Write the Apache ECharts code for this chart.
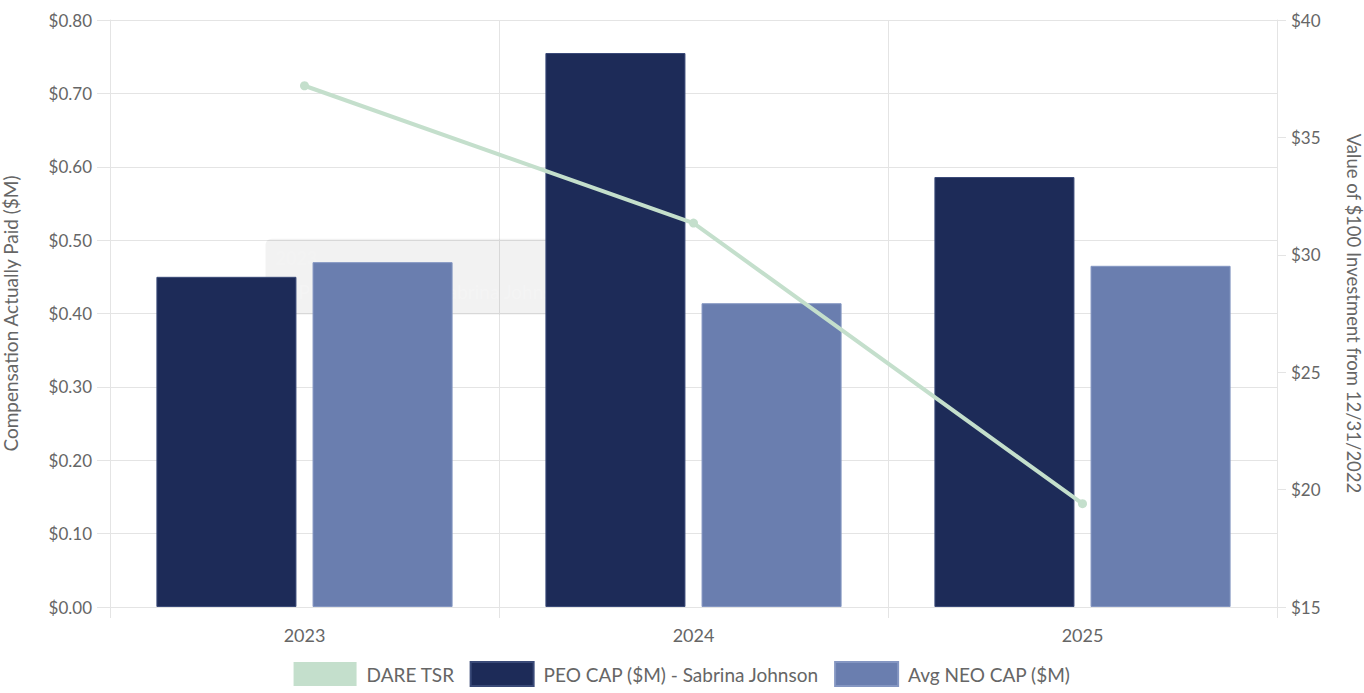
<!DOCTYPE html>
<html>
<head>
<meta charset="utf-8">
<script src="https://cdn.jsdelivr.net/npm/echarts@6/dist/echarts.min.js"></script>
<style>
html,body{margin:0;padding:0;background:#fff;}
#chart{width:1364px;height:693px;}
</style>
</head>
<body>
<div id="chart"></div>
<script>
const years = ['2023', '2024', '2025'];
const dareTsr = [37.2, 31.35, 19.4];
const peoCap = [0.45, 0.755, 0.586];
const avgNeoCap = [0.47, 0.414, 0.465];
const leftTicks = { min: 0, max: 0.8, interval: 0.1 };
const rightTicks = { min: 15, max: 40, interval: 5 };

const FONT = 'Lato';
const GRAY = '#666666';
const GRID = '#e4e4e4';

const chart = echarts.init(document.getElementById('chart'), null, { renderer: 'svg' });

chart.setOption({
  animation: false,
  textStyle: { fontFamily: FONT },
  grid: { left: 110, right: 87, top: 20, bottom: 86, containLabel: false, outerBoundsMode: 'none' },
  legend: {
    bottom: 1,
    left: 'center',
    itemWidth: 63,
    itemHeight: 24,
    itemGap: 15,
    icon: 'rect',
    textStyle: { fontFamily: FONT, fontSize: 19, color: GRAY, padding: [0, 0, 0, 5] },
    data: ['DARE TSR', 'PEO CAP ($M) - Sabrina Johnson', 'Avg NEO CAP ($M)']
  },
  xAxis: {
    type: 'category',
    data: years,
    axisLine: { show: true, lineStyle: { color: GRID } },
    axisTick: { show: true, length: 11, lineStyle: { color: GRID } },
    splitLine: { show: true, lineStyle: { color: GRID } },
    axisLabel: { color: GRAY, fontSize: 18, margin: 19, fontFamily: FONT }
  },
  yAxis: [
    {
      type: 'value',
      min: leftTicks.min, max: leftTicks.max, interval: leftTicks.interval,
      name: 'Compensation Actually Paid ($M)',
      nameLocation: 'middle',
      nameGap: 90,
      nameTextStyle: { color: GRAY, fontSize: 19, fontFamily: FONT },
      axisLine: { show: true, lineStyle: { color: GRID } },
      axisTick: { show: true, length: 13, lineStyle: { color: GRID } },
      splitLine: { show: true, lineStyle: { color: GRID } },
      axisLabel: { color: GRAY, fontSize: 17, margin: 18, fontFamily: FONT,
        formatter: v => '$' + v.toFixed(2) }
    },
    {
      type: 'value',
      min: rightTicks.min, max: rightTicks.max, interval: rightTicks.interval,
      name: 'Value of $100 Investment from 12/31/2022',
      nameLocation: 'middle',
      nameRotate: -90,
      nameGap: 67,
      nameTextStyle: { color: GRAY, fontSize: 18.5, fontFamily: FONT },
      axisLine: { show: true, lineStyle: { color: GRID } },
      axisTick: { show: true, length: 9, lineStyle: { color: GRID } },
      splitLine: { show: false },
      axisLabel: { color: GRAY, fontSize: 17, margin: 14, fontFamily: FONT,
        formatter: v => '$' + v }
    }
  ],
  series: [
    {
      name: 'DARE TSR',
      type: 'line',
      yAxisIndex: 1,
      data: dareTsr,
      z: 5,
      symbol: 'circle',
      symbolSize: 9,
      lineStyle: { color: '#c4dfcc', width: 4 },
      itemStyle: { color: '#c4dfcc' }
    },
    {
      name: 'PEO CAP ($M) - Sabrina Johnson',
      type: 'bar',
      yAxisIndex: 0,
      data: peoCap,
      barWidth: '36%',
      barGap: '11.5%',
      z: 2,
      itemStyle: { color: '#1d2b58', borderColor: '#3a4a78', borderWidth: 1 }
    },
    {
      name: 'Avg NEO CAP ($M)',
      type: 'bar',
      yAxisIndex: 0,
      data: avgNeoCap,
      barWidth: '36%',
      barGap: '11.5%',
      z: 2,
      itemStyle: { color: '#6a7eaf', borderColor: '#8496c2', borderWidth: 1 }
    }
  ]
});

// Fading hover tooltip visible in the reference (on the 2023 PEO bar)
const anchor = chart.convertToPixel({ xAxisIndex: 0, yAxisIndex: 0 }, [years[0], peoCap[0]]);
const tipLeft = anchor[0] - 39;
const tipTop = anchor[1] - 38;
chart.setOption({
  graphic: [{
    type: 'group',
    left: tipLeft,
    top: tipTop,
    z: 100,
    silent: true,
    children: [
      { type: 'rect', shape: { x: 0, y: 0, width: 373, height: 76, r: 6 },
        style: { fill: 'rgba(0,0,0,0.05)' } },
      { type: 'text', x: 10, y: 10,
        style: { text: years[0], fill: 'rgba(255,255,255,0.14)', font: 'bold 18px ' + FONT } },
      { type: 'rect', shape: { x: 10, y: 45, width: 17, height: 17 },
        style: { fill: 'rgba(29,43,88,0.14)' } },
      { type: 'text', x: 33, y: 43,
        style: { text: 'PEO CAP ($M) - Sabrina Johnson: $' + peoCap[0].toFixed(2),
          fill: 'rgba(255,255,255,0.2)', font: '19px ' + FONT } }
    ]
  }]
});
</script>
</body>
</html>
